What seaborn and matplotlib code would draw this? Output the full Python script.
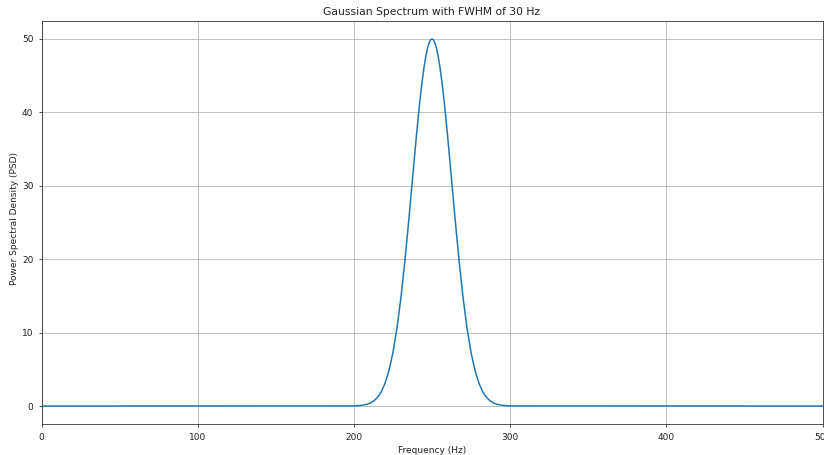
import matplotlib
matplotlib.use("Agg")
import matplotlib.pyplot as plt
import seaborn as sns
import pandas as pd

# Spectrum samples: frequency (Hz) and power spectral density
freq_hz = [0, 200, 202.5, 205, 207.5, 210, 212.5, 215, 217.5, 220, 222.5, 225,
           227.5, 230, 232.5, 235, 236, 237, 238, 239, 240, 241, 242, 243, 244,
           245, 246, 247, 248, 249, 250, 251, 252, 253, 254, 255, 256, 257,
           258, 259, 260, 261, 262, 263, 264, 265, 267.5, 270, 272.5, 275,
           277.5, 280, 282.5, 285, 287.5, 290, 292.5, 295, 297.5, 300, 500]
psd = [0.0, 0.02, 0.05, 0.10, 0.19, 0.36, 0.66, 1.15, 1.93, 3.13, 4.87, 7.29,
       10.51, 14.58, 19.46, 25.00, 27.34, 29.71, 32.09, 34.44, 36.74, 38.96,
       41.05, 42.99, 44.75, 46.29, 47.60, 48.63, 49.39, 49.85, 50.0,
       49.85, 49.39, 48.63, 47.60, 46.29, 44.75, 42.99, 41.05, 38.96, 36.74,
       34.44, 32.09, 29.71, 27.34, 25.00, 19.46, 14.58, 10.51, 7.29,
       4.87, 3.13, 1.93, 1.15, 0.66, 0.36, 0.19, 0.10, 0.05, 0.02, 0.0]

x_ticks = [0, 100, 200, 300, 400, 500]
y_ticks = [0, 10, 20, 30, 40, 50]

df = pd.DataFrame({"Frequency (Hz)": freq_hz, "PSD": psd})

plt.rcParams.update({
    "font.family": ["DejaVu Sans"],
    "font.size": 6.45,
    "xtick.major.size": 2.4,
    "ytick.major.size": 2.4,
    "xtick.major.width": 0.6,
    "ytick.major.width": 0.6,
    "xtick.color": "#333333",
    "ytick.color": "#333333",
    "xtick.labelcolor": "#222222",
    "ytick.labelcolor": "#222222",
    "axes.linewidth": 0.6,
    "axes.edgecolor": "#333333",
    "text.color": "#222222",
    "axes.labelcolor": "#222222",
})

fig = plt.figure(figsize=(8.24, 4.55), dpi=100)
ax = fig.add_axes([41.5 / 824, 1 - 424.4 / 455, (822.5 - 41.5) / 824, (424.4 - 20.6) / 455])

sns.lineplot(data=df, x="Frequency (Hz)", y="PSD", ax=ax,
             color="#1f77b4", linewidth=1.1)

ax.set_xlim(0, 500)
ax.set_ylim(-2.5, 52.5)
ax.set_xticks(x_ticks)
ax.set_yticks(y_ticks)
ax.grid(True, color="#b0b0b0", linewidth=0.55)
ax.set_axisbelow(True)
ax.set_title("Gaussian Spectrum with FWHM of 30 Hz", fontsize=7.75, pad=4)
ax.set_xlabel("Frequency (Hz)", fontsize=6.45, labelpad=3.2)
ax.set_ylabel("Power Spectral Density (PSD)", fontsize=6.45)
ax.yaxis.set_label_coords(-0.029, 0.51)

fig.savefig("out.png", dpi=100)
